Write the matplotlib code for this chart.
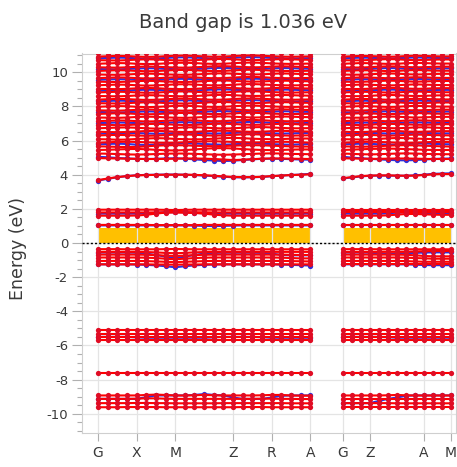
import numpy as np
import matplotlib
matplotlib.use("Agg")
import matplotlib.pyplot as plt
from matplotlib.ticker import MultipleLocator

plt.rcParams["font.family"] = "DejaVu Sans"
plt.rcParams["axes.unicode_minus"] = False

title = "Band gap is 1.036 eV"
k_labels = ["G", "X", "M", "Z", "R", "A", "G", "Z", "A", "M"]
k_ticks = [0.0, 1.0, 2.0, 3.5, 4.5, 5.5, 6.35, 7.05, 8.45, 9.15]
n_first = 23   # k-points on G-X-M-Z-R-A
n_second = 13  # k-points on G-Z-A-M
fill_top = 0.88  # top of the yellow band above the Fermi level

# spin-up bands (red); each row: 23 values on the first path, 13 on the second
deep_up = [
    [-9.62, -9.62, -9.62, -9.61, -9.61, -9.61, -9.61, -9.62, -9.62, -9.62, -9.62, -9.62, -9.62, -9.62, -9.62, -9.61, -9.61, -9.61, -9.62, -9.62, -9.62, -9.62, -9.62,
     -9.62, -9.62, -9.62, -9.62, -9.62, -9.62, -9.62, -9.62, -9.62, -9.62, -9.62, -9.62, -9.62],
    [-9.38, -9.38, -9.38, -9.38, -9.37, -9.37, -9.38, -9.38, -9.39, -9.39, -9.39, -9.39, -9.39, -9.38, -9.38, -9.38, -9.38, -9.38, -9.38, -9.38, -9.39, -9.39, -9.39,
     -9.38, -9.38, -9.38, -9.38, -9.38, -9.38, -9.39, -9.39, -9.39, -9.39, -9.39, -9.39, -9.39],
    [-9.13, -9.13, -9.13, -9.13, -9.12, -9.10, -9.10, -9.12, -9.13, -9.13, -9.13, -9.13, -9.13, -9.13, -9.13, -9.13, -9.13, -9.12, -9.12, -9.13, -9.13, -9.14, -9.14,
     -9.13, -9.13, -9.13, -9.13, -9.13, -9.13, -9.13, -9.13, -9.13, -9.13, -9.13, -9.13, -9.13],
    [-8.93, -8.93, -8.93, -8.93, -8.93, -8.90, -8.88, -8.90, -8.93, -8.93, -8.92, -8.90, -8.92, -8.93, -8.93, -8.93, -8.93, -8.92, -8.90, -8.90, -8.93, -8.94, -8.94,
     -8.93, -8.93, -8.93, -8.93, -8.93, -8.92, -8.90, -8.92, -8.93, -8.93, -8.93, -8.93, -8.93],
    [-7.62, -7.62, -7.62, -7.62, -7.62, -7.62, -7.62, -7.62, -7.62, -7.62, -7.62, -7.62, -7.62, -7.62, -7.62, -7.62, -7.62, -7.62, -7.62, -7.62, -7.62, -7.62, -7.62,
     -7.62, -7.62, -7.62, -7.62, -7.62, -7.62, -7.62, -7.62, -7.62, -7.62, -7.62, -7.62, -7.62],
    [-5.68, -5.68, -5.68, -5.68, -5.68, -5.68, -5.68, -5.68, -5.68, -5.68, -5.68, -5.68, -5.68, -5.68, -5.68, -5.68, -5.68, -5.68, -5.68, -5.68, -5.68, -5.68, -5.68,
     -5.68, -5.68, -5.68, -5.68, -5.68, -5.68, -5.68, -5.68, -5.68, -5.68, -5.68, -5.68, -5.68],
    [-5.50, -5.50, -5.50, -5.50, -5.50, -5.50, -5.50, -5.50, -5.50, -5.50, -5.50, -5.50, -5.50, -5.50, -5.50, -5.50, -5.50, -5.50, -5.50, -5.50, -5.50, -5.50, -5.50,
     -5.50, -5.50, -5.50, -5.50, -5.50, -5.50, -5.50, -5.50, -5.50, -5.50, -5.50, -5.50, -5.50],
    [-5.31, -5.31, -5.31, -5.31, -5.31, -5.31, -5.31, -5.31, -5.31, -5.31, -5.31, -5.31, -5.31, -5.31, -5.31, -5.31, -5.31, -5.31, -5.31, -5.31, -5.31, -5.31, -5.31,
     -5.31, -5.31, -5.31, -5.31, -5.31, -5.31, -5.31, -5.31, -5.31, -5.31, -5.31, -5.31, -5.31],
    [-5.12, -5.12, -5.12, -5.12, -5.12, -5.12, -5.12, -5.12, -5.12, -5.12, -5.12, -5.12, -5.12, -5.12, -5.12, -5.12, -5.12, -5.12, -5.12, -5.12, -5.12, -5.12, -5.12,
     -5.12, -5.12, -5.12, -5.12, -5.12, -5.12, -5.12, -5.12, -5.12, -5.12, -5.12, -5.12, -5.12],
]

valence_up = [
    [-1.25, -1.25, -1.25, -1.25, -1.25, -1.25, -1.26, -1.26, -1.27, -1.26, -1.26, -1.25, -1.25, -1.25, -1.25, -1.25, -1.25, -1.25, -1.25, -1.25, -1.25, -1.25, -1.25,
     -1.25, -1.25, -1.25, -1.25, -1.25, -1.25, -1.25, -1.25, -1.25, -1.25, -1.25, -1.25, -1.25],
    [-1.05, -1.05, -1.05, -1.05, -1.05, -1.06, -1.08, -1.10, -1.12, -1.10, -1.08, -1.06, -1.05, -1.05, -1.05, -1.05, -1.05, -1.05, -1.05, -1.05, -1.06, -1.07, -1.08,
     -1.05, -1.05, -1.05, -1.05, -1.05, -1.05, -1.05, -1.06, -1.08, -1.10, -1.10, -1.10, -1.10],
    [-0.85, -0.85, -0.85, -0.85, -0.85, -0.86, -0.88, -0.92, -0.95, -0.92, -0.88, -0.86, -0.85, -0.85, -0.85, -0.85, -0.85, -0.85, -0.85, -0.86, -0.88, -0.90, -0.90,
     -0.85, -0.85, -0.85, -0.85, -0.85, -0.85, -0.85, -0.86, -0.88, -0.90, -0.92, -0.92, -0.92],
    [-0.68, -0.68, -0.68, -0.68, -0.68, -0.69, -0.71, -0.74, -0.76, -0.74, -0.71, -0.69, -0.68, -0.68, -0.68, -0.68, -0.68, -0.68, -0.68, -0.68, -0.69, -0.70, -0.70,
     -0.68, -0.68, -0.68, -0.68, -0.68, -0.68, -0.68, -0.69, -0.72, -0.76, -0.78, -0.78, -0.78],
    [-0.52, -0.52, -0.52, -0.52, -0.52, -0.53, -0.55, -0.58, -0.60, -0.58, -0.55, -0.53, -0.52, -0.52, -0.52, -0.52, -0.52, -0.52, -0.52, -0.52, -0.52, -0.52, -0.52,
     -0.52, -0.52, -0.52, -0.52, -0.52, -0.52, -0.52, -0.52, -0.50, -0.48, -0.47, -0.47, -0.47],
    [-0.36, -0.36, -0.36, -0.37, -0.37, -0.37, -0.37, -0.36, -0.35, -0.36, -0.37, -0.37, -0.37, -0.37, -0.37, -0.37, -0.37, -0.37, -0.37, -0.37, -0.37, -0.37, -0.37,
     -0.36, -0.36, -0.36, -0.36, -0.37, -0.37, -0.37, -0.37, -0.37, -0.37, -0.37, -0.37, -0.37],
    [1.06, 1.06, 1.06, 1.06, 1.06, 1.06, 1.05, 1.05, 1.05, 1.05, 1.05, 1.06, 1.06, 1.06, 1.06, 1.06, 1.06, 1.06, 1.06, 1.06, 1.06, 1.06, 1.06,
     1.06, 1.06, 1.06, 1.06, 1.06, 1.06, 1.06, 1.06, 1.06, 1.06, 1.06, 1.06, 1.06],
    [1.60, 1.60, 1.60, 1.60, 1.61, 1.65, 1.72, 1.78, 1.80, 1.78, 1.76, 1.72, 1.66, 1.62, 1.60, 1.60, 1.60, 1.60, 1.60, 1.60, 1.60, 1.60, 1.60,
     1.60, 1.60, 1.60, 1.60, 1.60, 1.62, 1.66, 1.70, 1.70, 1.68, 1.66, 1.65, 1.65],
    [1.79, 1.79, 1.79, 1.79, 1.79, 1.79, 1.79, 1.80, 1.80, 1.80, 1.80, 1.80, 1.79, 1.79, 1.79, 1.79, 1.79, 1.79, 1.79, 1.79, 1.79, 1.79, 1.79,
     1.79, 1.79, 1.79, 1.79, 1.79, 1.79, 1.79, 1.79, 1.79, 1.79, 1.79, 1.79, 1.79],
    [1.95, 1.95, 1.95, 1.95, 1.95, 1.95, 1.95, 1.94, 1.93, 1.94, 1.95, 1.95, 1.95, 1.95, 1.95, 1.95, 1.95, 1.95, 1.95, 1.95, 1.95, 1.95, 1.95,
     1.95, 1.95, 1.95, 1.95, 1.95, 1.95, 1.95, 1.95, 1.95, 1.95, 1.95, 1.95, 1.95],
    [3.68, 3.78, 3.86, 3.92, 3.96, 3.98, 3.99, 4.00, 4.00, 4.00, 3.99, 3.97, 3.94, 3.90, 3.87, 3.86, 3.86, 3.88, 3.92, 3.95, 3.98, 4.00, 4.02,
     3.80, 3.86, 3.92, 3.95, 3.96, 3.96, 3.95, 3.94, 3.95, 3.98, 4.02, 4.04, 4.04],
]

conduction_up = [
    [4.97, 4.96, 4.95, 4.94, 4.93, 4.92, 4.92, 4.93, 4.94, 4.95, 4.95, 4.94, 4.92, 4.89, 4.86, 4.88, 4.91, 4.94, 4.95, 4.95, 4.94, 4.93, 4.92,
     4.96, 4.95, 4.94, 4.93, 4.93, 4.94, 4.95, 4.95, 4.94, 4.93, 4.92, 4.92, 4.92],
    [5.24, 5.23, 5.21, 5.19, 5.18, 5.19, 5.21, 5.23, 5.24, 5.24, 5.22, 5.20, 5.18, 5.17, 5.18, 5.20, 5.22, 5.24, 5.25, 5.24, 5.22, 5.21, 5.20,
     5.24, 5.22, 5.20, 5.19, 5.20, 5.22, 5.24, 5.25, 5.24, 5.22, 5.21, 5.20, 5.20],
    [5.45, 5.46, 5.48, 5.50, 5.51, 5.49, 5.46, 5.43, 5.42, 5.44, 5.48, 5.52, 5.55, 5.56, 5.54, 5.50, 5.47, 5.45, 5.44, 5.45, 5.47, 5.48, 5.48,
     5.45, 5.47, 5.49, 5.51, 5.52, 5.53, 5.52, 5.50, 5.48, 5.46, 5.45, 5.45, 5.45],
    [5.66, 5.65, 5.63, 5.62, 5.63, 5.66, 5.70, 5.72, 5.73, 5.72, 5.70, 5.68, 5.67, 5.68, 5.70, 5.72, 5.73, 5.72, 5.70, 5.68, 5.66, 5.65, 5.65,
     5.66, 5.65, 5.64, 5.65, 5.67, 5.70, 5.72, 5.73, 5.72, 5.70, 5.68, 5.66, 5.65],
    [5.88, 5.90, 5.92, 5.93, 5.92, 5.90, 5.88, 5.87, 5.88, 5.90, 5.93, 5.95, 5.96, 5.94, 5.92, 5.90, 5.89, 5.90, 5.92, 5.93, 5.92, 5.90, 5.88,
     5.88, 5.90, 5.92, 5.93, 5.92, 5.90, 5.88, 5.87, 5.88, 5.90, 5.92, 5.92, 5.92],
    [6.08, 6.07, 6.05, 6.06, 6.09, 6.12, 6.14, 6.13, 6.10, 6.08, 6.07, 6.08, 6.11, 6.14, 6.16, 6.14, 6.11, 6.09, 6.08, 6.09, 6.11, 6.12, 6.12,
     6.08, 6.07, 6.06, 6.07, 6.10, 6.13, 6.15, 6.14, 6.12, 6.10, 6.09, 6.08, 6.08],
    [6.30, 6.32, 6.33, 6.32, 6.30, 6.28, 6.29, 6.32, 6.35, 6.36, 6.34, 6.31, 6.29, 6.30, 6.33, 6.36, 6.37, 6.35, 6.32, 6.30, 6.29, 6.30, 6.31,
     6.30, 6.32, 6.34, 6.33, 6.31, 6.29, 6.30, 6.33, 6.35, 6.34, 6.32, 6.31, 6.30],
    [6.52, 6.50, 6.49, 6.50, 6.53, 6.56, 6.57, 6.55, 6.52, 6.50, 6.51, 6.54, 6.57, 6.58, 6.56, 6.53, 6.51, 6.52, 6.55, 6.57, 6.56, 6.54, 6.53,
     6.52, 6.50, 6.50, 6.52, 6.55, 6.57, 6.56, 6.53, 6.51, 6.52, 6.54, 6.55, 6.55],
    [6.72, 6.74, 6.76, 6.77, 6.75, 6.72, 6.70, 6.71, 6.74, 6.77, 6.78, 6.76, 6.73, 6.71, 6.72, 6.75, 6.78, 6.79, 6.77, 6.74, 6.72, 6.72, 6.73,
     6.72, 6.74, 6.76, 6.77, 6.75, 6.73, 6.72, 6.74, 6.77, 6.78, 6.76, 6.74, 6.73],
    [6.93, 6.92, 6.90, 6.91, 6.94, 6.97, 6.98, 6.96, 6.93, 6.91, 6.92, 6.95, 6.98, 6.99, 6.97, 6.94, 6.92, 6.93, 6.96, 6.98, 6.97, 6.95, 6.94,
     6.93, 6.92, 6.91, 6.93, 6.96, 6.98, 6.97, 6.95, 6.93, 6.92, 6.94, 6.96, 6.96],
    [7.14, 7.16, 7.18, 7.17, 7.14, 7.12, 7.13, 7.16, 7.19, 7.20, 7.18, 7.15, 7.13, 7.14, 7.17, 7.20, 7.21, 7.19, 7.16, 7.14, 7.13, 7.14, 7.15,
     7.14, 7.16, 7.18, 7.17, 7.15, 7.13, 7.14, 7.17, 7.19, 7.18, 7.16, 7.15, 7.15],
    [7.35, 7.34, 7.33, 7.35, 7.38, 7.40, 7.39, 7.36, 7.34, 7.33, 7.35, 7.38, 7.41, 7.42, 7.40, 7.37, 7.35, 7.36, 7.39, 7.41, 7.40, 7.38, 7.37,
     7.35, 7.34, 7.34, 7.36, 7.39, 7.41, 7.40, 7.37, 7.35, 7.36, 7.38, 7.39, 7.39],
    [7.56, 7.58, 7.60, 7.59, 7.56, 7.54, 7.55, 7.58, 7.61, 7.62, 7.60, 7.57, 7.55, 7.56, 7.59, 7.62, 7.63, 7.61, 7.58, 7.56, 7.55, 7.56, 7.57,
     7.56, 7.58, 7.60, 7.59, 7.57, 7.55, 7.56, 7.59, 7.61, 7.60, 7.58, 7.57, 7.57],
    [7.77, 7.76, 7.75, 7.77, 7.80, 7.82, 7.81, 7.78, 7.76, 7.75, 7.77, 7.80, 7.83, 7.84, 7.82, 7.79, 7.77, 7.78, 7.81, 7.83, 7.82, 7.80, 7.79,
     7.77, 7.76, 7.76, 7.78, 7.81, 7.83, 7.82, 7.79, 7.77, 7.78, 7.80, 7.81, 7.81],
    [7.98, 8.00, 8.02, 8.01, 7.98, 7.96, 7.97, 8.00, 8.03, 8.04, 8.02, 7.99, 7.97, 7.98, 8.01, 8.04, 8.05, 8.03, 8.00, 7.98, 7.97, 7.98, 7.99,
     7.98, 8.00, 8.02, 8.01, 7.99, 7.97, 7.98, 8.01, 8.03, 8.02, 8.00, 7.99, 7.99],
    [8.19, 8.18, 8.17, 8.19, 8.22, 8.24, 8.23, 8.20, 8.18, 8.17, 8.19, 8.22, 8.25, 8.26, 8.24, 8.21, 8.19, 8.20, 8.23, 8.25, 8.24, 8.22, 8.21,
     8.19, 8.18, 8.18, 8.20, 8.23, 8.25, 8.24, 8.21, 8.19, 8.20, 8.22, 8.23, 8.23],
    [8.40, 8.42, 8.44, 8.43, 8.40, 8.38, 8.39, 8.42, 8.45, 8.46, 8.44, 8.41, 8.39, 8.40, 8.43, 8.46, 8.47, 8.45, 8.42, 8.40, 8.39, 8.40, 8.41,
     8.40, 8.42, 8.44, 8.43, 8.41, 8.39, 8.40, 8.43, 8.45, 8.44, 8.42, 8.41, 8.41],
    [8.61, 8.60, 8.59, 8.61, 8.64, 8.66, 8.65, 8.62, 8.60, 8.59, 8.61, 8.64, 8.67, 8.68, 8.66, 8.63, 8.61, 8.62, 8.65, 8.67, 8.66, 8.64, 8.63,
     8.61, 8.60, 8.60, 8.62, 8.65, 8.67, 8.66, 8.63, 8.61, 8.62, 8.64, 8.65, 8.65],
    [8.82, 8.84, 8.86, 8.85, 8.82, 8.80, 8.81, 8.84, 8.87, 8.88, 8.86, 8.83, 8.81, 8.82, 8.85, 8.88, 8.89, 8.87, 8.84, 8.82, 8.81, 8.82, 8.83,
     8.82, 8.84, 8.86, 8.85, 8.83, 8.81, 8.82, 8.85, 8.87, 8.86, 8.84, 8.83, 8.83],
    [9.03, 9.02, 9.01, 9.03, 9.06, 9.08, 9.07, 9.04, 9.02, 9.01, 9.03, 9.06, 9.09, 9.10, 9.08, 9.05, 9.03, 9.04, 9.07, 9.09, 9.08, 9.06, 9.05,
     9.03, 9.02, 9.02, 9.04, 9.07, 9.09, 9.08, 9.05, 9.03, 9.04, 9.06, 9.07, 9.07],
    [9.24, 9.26, 9.28, 9.27, 9.24, 9.22, 9.23, 9.26, 9.29, 9.30, 9.28, 9.25, 9.23, 9.24, 9.27, 9.30, 9.31, 9.29, 9.26, 9.24, 9.23, 9.24, 9.25,
     9.24, 9.26, 9.28, 9.27, 9.25, 9.23, 9.24, 9.27, 9.29, 9.28, 9.26, 9.25, 9.25],
    [9.45, 9.44, 9.43, 9.45, 9.48, 9.50, 9.49, 9.46, 9.44, 9.43, 9.45, 9.48, 9.51, 9.52, 9.50, 9.47, 9.45, 9.46, 9.49, 9.51, 9.50, 9.48, 9.47,
     9.45, 9.44, 9.44, 9.46, 9.49, 9.51, 9.50, 9.47, 9.45, 9.46, 9.48, 9.49, 9.49],
    [9.66, 9.68, 9.70, 9.69, 9.66, 9.64, 9.65, 9.68, 9.71, 9.72, 9.70, 9.67, 9.65, 9.66, 9.69, 9.72, 9.73, 9.71, 9.68, 9.66, 9.65, 9.66, 9.67,
     9.66, 9.68, 9.70, 9.69, 9.67, 9.65, 9.66, 9.69, 9.71, 9.70, 9.68, 9.67, 9.67],
    [9.87, 9.86, 9.85, 9.87, 9.90, 9.92, 9.91, 9.88, 9.86, 9.85, 9.87, 9.90, 9.93, 9.94, 9.92, 9.89, 9.87, 9.88, 9.91, 9.93, 9.92, 9.90, 9.89,
     9.87, 9.86, 9.86, 9.88, 9.91, 9.93, 9.92, 9.89, 9.87, 9.88, 9.90, 9.91, 9.91],
    [10.08, 10.10, 10.12, 10.11, 10.08, 10.06, 10.07, 10.10, 10.13, 10.14, 10.12, 10.09, 10.07, 10.08, 10.11, 10.14, 10.15, 10.13, 10.10, 10.08, 10.07, 10.08, 10.09,
     10.08, 10.10, 10.12, 10.11, 10.09, 10.07, 10.08, 10.11, 10.13, 10.12, 10.10, 10.09, 10.09],
    [10.29, 10.28, 10.27, 10.29, 10.32, 10.34, 10.33, 10.30, 10.28, 10.27, 10.29, 10.32, 10.35, 10.36, 10.34, 10.31, 10.29, 10.30, 10.33, 10.35, 10.34, 10.32, 10.31,
     10.29, 10.28, 10.28, 10.30, 10.33, 10.35, 10.34, 10.31, 10.29, 10.30, 10.32, 10.33, 10.33],
    [10.50, 10.52, 10.54, 10.53, 10.50, 10.48, 10.49, 10.52, 10.55, 10.56, 10.54, 10.51, 10.49, 10.50, 10.53, 10.56, 10.57, 10.55, 10.52, 10.50, 10.49, 10.50, 10.51,
     10.50, 10.52, 10.54, 10.53, 10.51, 10.49, 10.50, 10.53, 10.55, 10.54, 10.52, 10.51, 10.51],
    [10.71, 10.70, 10.69, 10.71, 10.74, 10.76, 10.75, 10.72, 10.70, 10.69, 10.71, 10.74, 10.77, 10.78, 10.76, 10.73, 10.71, 10.72, 10.75, 10.77, 10.76, 10.74, 10.73,
     10.71, 10.70, 10.70, 10.72, 10.75, 10.77, 10.76, 10.73, 10.71, 10.72, 10.74, 10.75, 10.75],
    [10.92, 10.94, 10.96, 10.95, 10.92, 10.90, 10.91, 10.94, 10.97, 10.98, 10.96, 10.93, 10.91, 10.92, 10.95, 10.98, 10.99, 10.97, 10.94, 10.92, 10.91, 10.92, 10.93,
     10.92, 10.94, 10.96, 10.95, 10.93, 10.91, 10.92, 10.95, 10.97, 10.96, 10.94, 10.93, 10.93],
    [11.12, 11.12, 11.12, 11.12, 11.12, 11.12, 11.12, 11.12, 11.12, 11.12, 11.12, 11.12, 11.12, 11.12, 11.12, 11.12, 11.12, 11.12, 11.12, 11.12, 11.12, 11.12, 11.12,
     11.12, 11.12, 11.12, 11.12, 11.12, 11.12, 11.12, 11.12, 11.12, 11.12, 11.12, 11.12, 11.12],
]

# spin-down bands (blue), only visible where they leave the red ones
bands_down = [
    [-9.13, -9.13, -9.13, -9.13, -9.13, -9.03, -8.93, -8.93, -8.93, -8.93, -8.90, -8.85, -8.90, -8.93, -9.05, -9.13, -9.13, -9.13, -9.05, -8.95, -8.93, -8.93, -8.93,
     -9.38, -9.38, -9.38, -9.38, -9.25, -9.13, -9.05, -8.95, -8.93, -8.93, -8.93, -8.93, -8.93],
    [-5.50, -5.50, -5.50, -5.50, -5.53, -5.55, -5.55, -5.55, -5.55, -5.55, -5.55, -5.55, -5.53, -5.50, -5.50, -5.50, -5.50, -5.52, -5.55, -5.55, -5.55, -5.55, -5.55,
     -5.50, -5.50, -5.50, -5.50, -5.50, -5.52, -5.55, -5.55, -5.55, -5.55, -5.55, -5.55, -5.55],
    [-1.25, -1.25, -1.25, -1.25, -1.26, -1.28, -1.31, -1.36, -1.42, -1.36, -1.31, -1.28, -1.26, -1.25, -1.25, -1.25, -1.25, -1.25, -1.25, -1.26, -1.28, -1.30, -1.32,
     -1.25, -1.25, -1.25, -1.25, -1.25, -1.25, -1.25, -1.25, -1.27, -1.29, -1.30, -1.30, -1.30],
    [-0.56, -0.56, -0.56, -0.56, -0.57, -0.62, -0.70, -0.80, -0.88, -0.80, -0.70, -0.62, -0.58, -0.57, -0.57, -0.57, -0.57, -0.58, -0.62, -0.70, -0.72, -0.72, -0.72,
     -0.56, -0.56, -0.56, -0.57, -0.60, -0.64, -0.62, -0.60, -0.58, -0.56, -0.55, -0.55, -0.55],
    [1.03, 1.03, 1.03, 1.03, 1.03, 1.03, 1.03, 1.03, 1.03, 1.03, 1.02, 1.00, 0.99, 1.00, 1.02, 1.03, 1.03, 1.03, 1.03, 1.03, 1.03, 1.03, 1.03,
     1.03, 1.03, 1.03, 1.03, 1.03, 1.03, 1.03, 1.03, 1.03, 1.03, 1.03, 1.03, 1.03],
    [1.72, 1.72, 1.72, 1.72, 1.72, 1.74, 1.77, 1.80, 1.80, 1.80, 1.77, 1.74, 1.72, 1.72, 1.72, 1.72, 1.72, 1.72, 1.72, 1.72, 1.72, 1.72, 1.72,
     1.72, 1.72, 1.72, 1.72, 1.72, 1.74, 1.78, 1.80, 1.78, 1.76, 1.75, 1.75, 1.75],
    [3.66, 3.76, 3.85, 3.92, 3.97, 3.99, 4.00, 4.01, 4.01, 4.00, 3.98, 3.95, 3.92, 3.88, 3.85, 3.84, 3.85, 3.87, 3.91, 3.95, 3.98, 4.01, 4.05,
     3.78, 3.84, 3.90, 3.94, 3.95, 3.95, 3.94, 3.94, 3.96, 4.00, 4.05, 4.07, 4.08],
    [5.05, 5.02, 4.98, 4.95, 4.93, 4.92, 4.93, 4.95, 4.96, 4.94, 4.90, 4.86, 4.83, 4.80, 4.82, 4.86, 4.90, 4.93, 4.94, 4.93, 4.91, 4.89, 4.88,
     5.05, 5.00, 4.96, 4.93, 4.90, 4.87, 4.85, 4.84, 4.86, 4.89, 4.92, 4.94, 4.95],
    [5.78, 5.80, 5.82, 5.80, 5.76, 5.74, 5.76, 5.79, 5.82, 5.84, 5.83, 5.80, 5.77, 5.76, 5.78, 5.81, 5.83, 5.82, 5.79, 5.77, 5.76, 5.78, 5.80,
     5.78, 5.80, 5.82, 5.81, 5.78, 5.76, 5.77, 5.80, 5.82, 5.83, 5.81, 5.79, 5.78],
    [6.40, 6.42, 6.44, 6.45, 6.44, 6.42, 6.40, 6.41, 6.44, 6.46, 6.45, 6.43, 6.41, 6.42, 6.45, 6.47, 6.46, 6.44, 6.42, 6.41, 6.42, 6.44, 6.45,
     6.40, 6.42, 6.44, 6.45, 6.43, 6.41, 6.42, 6.44, 6.46, 6.45, 6.43, 6.42, 6.42],
    [7.02, 7.04, 7.06, 7.05, 7.02, 7.00, 7.01, 7.04, 7.07, 7.08, 7.06, 7.03, 7.01, 7.02, 7.05, 7.08, 7.09, 7.07, 7.04, 7.02, 7.01, 7.02, 7.03,
     7.02, 7.04, 7.06, 7.05, 7.03, 7.01, 7.02, 7.05, 7.07, 7.06, 7.04, 7.03, 7.03],
    [7.68, 7.66, 7.64, 7.66, 7.69, 7.71, 7.70, 7.67, 7.65, 7.64, 7.66, 7.69, 7.72, 7.73, 7.71, 7.68, 7.66, 7.67, 7.70, 7.72, 7.71, 7.69, 7.68,
     7.66, 7.65, 7.65, 7.67, 7.70, 7.72, 7.71, 7.68, 7.66, 7.67, 7.69, 7.70, 7.70],
    [8.30, 8.32, 8.34, 8.33, 8.30, 8.28, 8.29, 8.32, 8.35, 8.36, 8.34, 8.31, 8.29, 8.30, 8.33, 8.36, 8.37, 8.35, 8.32, 8.30, 8.29, 8.30, 8.31,
     8.30, 8.32, 8.34, 8.33, 8.31, 8.29, 8.30, 8.33, 8.35, 8.34, 8.32, 8.31, 8.31],
    [8.93, 8.92, 8.91, 8.93, 8.96, 8.98, 8.97, 8.94, 8.92, 8.91, 8.93, 8.96, 8.99, 9.00, 8.98, 8.95, 8.93, 8.94, 8.97, 8.99, 8.98, 8.96, 8.95,
     8.93, 8.92, 8.92, 8.94, 8.97, 8.99, 8.98, 8.95, 8.93, 8.94, 8.96, 8.97, 8.97],
    [9.56, 9.58, 9.60, 9.59, 9.56, 9.54, 9.55, 9.58, 9.61, 9.62, 9.60, 9.57, 9.55, 9.56, 9.59, 9.62, 9.63, 9.61, 9.58, 9.56, 9.55, 9.56, 9.57,
     9.56, 9.58, 9.60, 9.59, 9.57, 9.55, 9.56, 9.59, 9.61, 9.60, 9.58, 9.57, 9.57],
    [10.19, 10.18, 10.17, 10.19, 10.22, 10.24, 10.23, 10.20, 10.18, 10.17, 10.19, 10.22, 10.25, 10.26, 10.24, 10.21, 10.19, 10.20, 10.23, 10.25, 10.24, 10.22, 10.21,
     10.19, 10.18, 10.18, 10.20, 10.23, 10.25, 10.24, 10.21, 10.19, 10.20, 10.22, 10.23, 10.23],
    [10.82, 10.84, 10.86, 10.85, 10.82, 10.80, 10.81, 10.84, 10.87, 10.88, 10.86, 10.83, 10.81, 10.82, 10.85, 10.88, 10.89, 10.87, 10.84, 10.82, 10.81, 10.82, 10.83,
     10.82, 10.84, 10.86, 10.85, 10.83, 10.81, 10.82, 10.85, 10.87, 10.86, 10.84, 10.83, 10.83],
]

red_line, red_marker = "#ff0000", "#e00c24"
blue_line = "#3030d8"
grid_col = "#e4e4e4"
text_col = "#3a3a3a"

k1 = np.linspace(k_ticks[0], k_ticks[5], n_first)
k2 = np.linspace(k_ticks[6], k_ticks[9], n_second)


def draw_bands(ax, bands, line_col, mark_col, z):
    for e in bands:
        e = np.asarray(e)
        assert len(e) == n_first + n_second
        for k, seg in ((k1, e[:n_first]), (k2, e[n_first:])):
            ax.plot(k, seg, "-o", color=line_col, lw=1.5, ms=3.8,
                    mfc=mark_col, mec=mark_col, mew=0, zorder=z)


fig = plt.figure(figsize=(4.57, 4.67), dpi=100)
ax = fig.add_axes([82 / 457, 34.5 / 467, 374 / 457, 379 / 467])

# yellow region above the Fermi level, then grid on top of it
ax.fill_between(k1, 0, fill_top, color="#ffc000", lw=0, zorder=1)
ax.fill_between(k2, 0, fill_top, color="#ffc000", lw=0, zorder=1)
for x in k_ticks:
    ax.axvline(x, color=grid_col, lw=0.9, zorder=1.5)
for y in range(-10, 11, 2):
    ax.axhline(y, color=grid_col, lw=0.9, zorder=0.5)

draw_bands(ax, bands_down, blue_line, blue_line, 2)
draw_bands(ax, deep_up + valence_up + conduction_up, red_line, red_marker, 3)

ax.axhline(0, color="black", lw=1.0, ls=(0, (1.5, 1.5)), zorder=5)

ax.set_xlim(-0.415, 9.28)
ax.set_ylim(-11.1, 11.1)
ax.set_xticks(k_ticks)
ax.set_xticklabels(k_labels)
ax.yaxis.set_major_locator(MultipleLocator(2))
ax.yaxis.set_minor_locator(MultipleLocator(0.5))
ax.tick_params(axis="x", length=6, width=0.8, color="#b0b0b0", pad=4,
               labelsize=10, labelcolor=text_col)
ax.tick_params(axis="y", which="major", length=7, width=0.8, color="#b0b0b0",
               pad=3, labelsize=9.5, labelcolor=text_col)
ax.tick_params(axis="y", which="minor", length=3.5, width=0.8, color="#b0b0b0")
for s in ax.spines.values():
    s.set_color("#cfcfcf")
    s.set_linewidth(0.8)

fig.text(243 / 457, 1 - 22 / 467, title, ha="center", va="center",
         fontsize=14, color=text_col)
fig.text(18 / 457, 1 - 248 / 467, "Energy (eV)", rotation=90, ha="center",
         va="center", fontsize=12.5, color=text_col)

fig.savefig("out.png", dpi=100)
